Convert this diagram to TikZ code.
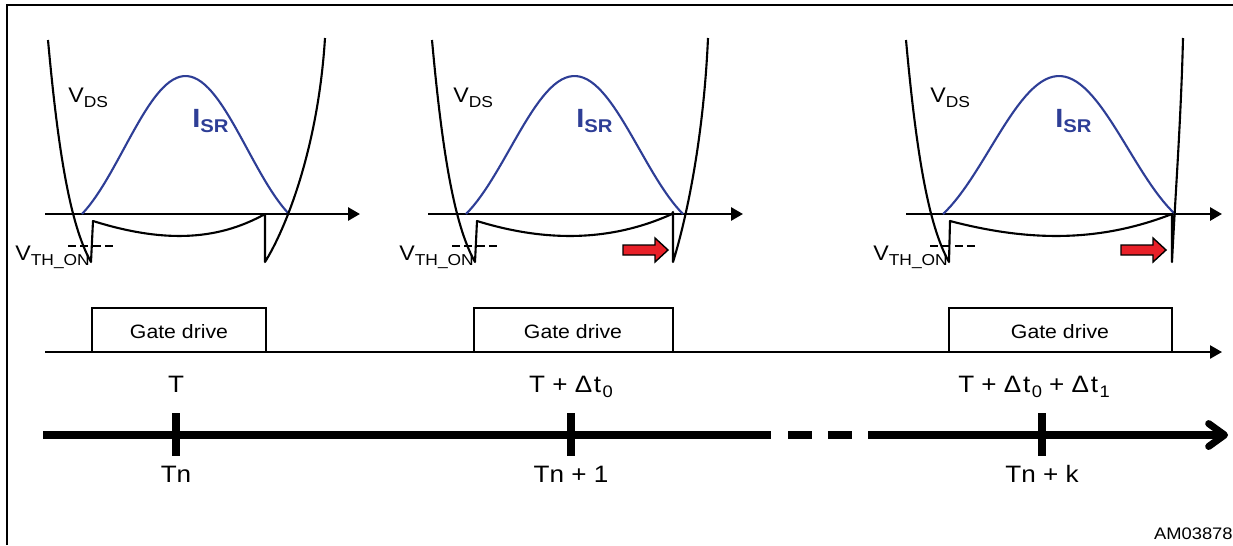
\documentclass[tikz,border=0pt]{standalone}
\usepackage{fontspec}
\setmainfont{Liberation Sans}[FakeStretch=1.1]
\usepackage{xcolor}
\usepackage{tikz}
\usetikzlibrary{arrows.meta}

\definecolor{isrblue}{RGB}{46,62,150}
\definecolor{arrowred}{RGB}{232,32,40}
\newcommand{\subtxt}[2][9]{\raisebox{-3pt}{\fontsize{#1}{#1}\selectfont #2}}

\begin{document}
\begin{tikzpicture}[x=0.02cm, y=-0.02cm,
    wave/.style={line width=1.2pt, line join=round},
    isr/.style={line width=1.2pt, isrblue},
    axis/.style={line width=1.5pt, -{Triangle[length=6.8pt, width=7.4pt]}},
    vth/.style={line width=0.9pt, dash pattern=on 4.5pt off 2.5pt},
    gatebox/.style={line width=1.2pt},
    timeline/.style={line width=4pt},
    tick/.style={line width=4.5pt},
    redarrow/.style={fill=arrowred, draw=black, line width=0.8pt},
    lbl/.style={inner sep=0pt}]
    \useasboundingbox (0,0) rectangle (1233,545);

    % 1. Khung
    \draw[line width=1.5pt] (7,545) -- (7,5) -- (1233,5);

    % 2. Truc thoi gian cua ba chu ky
    \draw[axis] (45,214) -- (360,214);
    \draw[axis] (428,214) -- (743,214);
    \draw[axis] (906,214) -- (1222,214);

    % 3. Dong I_SR
    \foreach \a/\b in {82/289, 466/683, 943/1175} {
        \draw[isr] plot[domain=\a:\b, samples=60]
            (\x, {214-138*(0.5*sin(((\x-\a)/(\b-\a))*180)+0.5*sin(((\x-\a)/(\b-\a))*180)^2)});
    }

    % 4. Dien ap V_DS
    \draw[wave] (48,40) .. controls (58,150) and (70,225) .. (91,262) -- (93,221)
        .. controls (160,242) and (215,242) .. (265,214) -- (265,262)
        .. controls (285,230) and (318,150) .. (325,38);
    \draw[wave] (432,40) .. controls (442,150) and (454,225) .. (475,262) -- (477,221)
        .. controls (545,242) and (610,242) .. (672,214) -- (673,212) -- (673,262)
        .. controls (683,230) and (703,150) .. (708,38);
    \draw[wave] (906,40) .. controls (916,150) and (928,225) .. (949,262) -- (950,221)
        .. controls (1030,242) and (1100,242) .. (1172,214) -- (1172,262)
        .. controls (1175,200) and (1181,120) .. (1183,38);

    % 5. Nguong V_TH_ON
    \draw[vth] (68,246) -- (113,246);
    \draw[vth] (452,246) -- (497,246);
    \draw[vth] (930,246) -- (977,246);

    % 6. Nhan
    \foreach \vx/\ix/\tx/\i in {68/192/15/1, 453/576/399/2, 930/1055/873/3} {
        \node[lbl, anchor=base west, font=\fontsize{12}{14}\selectfont] (vds\i) at (\vx,102)
            {V\subtxt{DS}};
        \node[lbl, anchor=base west, text=isrblue, font=\bfseries\fontsize{15}{17}\selectfont] (isr\i) at (\ix,127)
            {I\subtxt[10.5]{\bfseries SR}};
        \node[lbl, anchor=base west, font=\fontsize{12}{14}\selectfont] (vth\i) at (\tx,260)
            {V\subtxt{TH\_ON}};
    }

    % 7. Mui ten do
    \draw[redarrow] (623,245) -- (655,245) -- (655,238) -- (668,250) -- (655,262)
        -- (655,255) -- (623,255) -- cycle;
    \draw[redarrow] (1121,245) -- (1153,245) -- (1153,238) -- (1166,250) -- (1153,262)
        -- (1153,255) -- (1121,255) -- cycle;

    % 8. Xung dieu khien cong
    \draw[axis, line width=1.3pt] (45,352) -- (1222,352);
    \draw[gatebox] (92,352) -- (92,308) -- (266,308) -- (266,352);
    \draw[gatebox] (474,352) -- (474,308) -- (673,308) -- (673,352);
    \draw[gatebox] (949,352) -- (949,308) -- (1172,308) -- (1172,352);
    \node[lbl, anchor=base, font=\fontsize{11}{13}\selectfont] (gd1) at (179,338) {Gate drive};
    \node[lbl, anchor=base, font=\fontsize{11}{13}\selectfont] (gd2) at (573,338) {Gate drive};
    \node[lbl, anchor=base, font=\fontsize{11}{13}\selectfont] (gd3) at (1060,338) {Gate drive};

    % 9. Truc chu ky
    \coordinate (tl0) at (43,435);
    \coordinate (tl1) at (771,435);
    \coordinate (tl2) at (788,435);
    \coordinate (tl3) at (852,435);
    \coordinate (tl4) at (868,435);
    \coordinate (tl5) at (1228,435);
    \draw[timeline] (tl0) -- (tl1);
    \draw[timeline, dash pattern=on 13.6pt off 9.1pt] (tl2) -- (tl3);
    \draw[timeline, -{Straight Barb[length=9pt, width=13pt, round]}] (tl4) -- (tl5);
    \foreach \x in {176, 571, 1042} {
        \draw[tick] (\x,413) -- (\x,456);
    }
    \node[lbl, anchor=base, font=\fontsize{13.5}{15}\selectfont] (t1) at (176,392) {T};
    \node[lbl, anchor=base, font=\fontsize{13.5}{15}\selectfont] (t2) at (571,392)
        {T + Δ\kern1pt t\kern0.8pt\subtxt[9.5]{0}};
    \node[lbl, anchor=base, font=\fontsize{13.5}{15}\selectfont] (t3) at (1034,392)
        {T + Δ\kern1pt t\kern0.8pt\subtxt[9.5]{0} + Δ\kern1pt t\kern0.8pt\subtxt[9.5]{1}};
    \node[lbl, anchor=base, font=\fontsize{13.5}{15}\selectfont] (tn1) at (176,482) {Tn};
    \node[lbl, anchor=base, font=\fontsize{13.5}{15}\selectfont] (tn2) at (571,482) {Tn + 1};
    \node[lbl, anchor=base, font=\fontsize{13.5}{15}\selectfont] (tn3) at (1042,482) {Tn + k};
    \node[lbl, anchor=base east, font=\fontsize{9.5}{11}\selectfont] (code) at (1233,539) {AM03878};
\end{tikzpicture}
\end{document}
